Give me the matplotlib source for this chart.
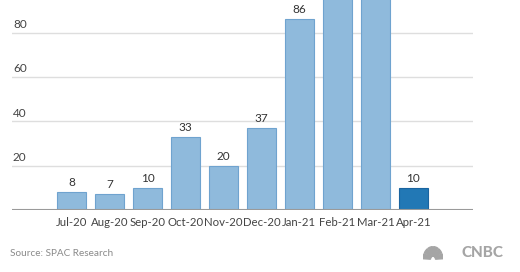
import matplotlib
matplotlib.use("Agg")
import matplotlib.pyplot as plt
from matplotlib.patches import Wedge
from matplotlib.transforms import blended_transform_factory

plt.rcParams['font.family'] = ['Lato', 'DejaVu Sans']

# Datos: SPAC IPOs por mes
meses = ["Jul-20", "Aug-20", "Sep-20", "Oct-20", "Nov-20", "Dec-20",
         "Jan-21", "Feb-21", "Mar-21", "Apr-21"]
valores = [8, 7, 10, 33, 20, 37, 86, 144, 109, 10]
yticks = [20, 40, 60, 80]

claro = "#8fbadc"
borde_claro = "#6fa3cf"
oscuro = "#2278b5"
borde_oscuro = "#1a64a0"

fig = plt.figure(figsize=(5.2, 2.72), dpi=100)
ax = fig.add_axes([12/520, 62/272, (473-12)/520, 210/272])

x = list(range(len(meses)))
colores = [claro]*(len(meses)-1) + [oscuro]
bordes = [borde_claro]*(len(meses)-1) + [borde_oscuro]
ax.bar(x, valores, width=0.76, color=colores, edgecolor=bordes,
       linewidth=0.8, zorder=3)

ax.set_xlim(-1.566, 10.57)
ax.set_ylim(0, 94.8)

# lineas de la cuadricula
for v in yticks:
    ax.axhline(v, color="#dedede", linewidth=1, zorder=1)
ax.axhline(0, color="#9a9a9a", linewidth=1.5, zorder=4)

# etiquetas del eje y encima de la linea
trans = blended_transform_factory(ax.transAxes, ax.transData)
for v in yticks:
    ax.annotate(str(v), xy=(0.002, v), xycoords=trans, xytext=(0, 2),
                textcoords="offset points", ha="left", va="bottom",
                fontsize=8.5, color="#444444")

# valores sobre las barras
for xi, v in zip(x, valores):
    ax.annotate(str(v), xy=(xi, v), xytext=(0, 3), textcoords="offset points",
                ha="center", va="bottom", fontsize=8.5, color="#333333",
                annotation_clip=True)

ax.set_xticks(x)
ax.set_xticklabels(meses, fontsize=8.2, color="#444444")
ax.tick_params(axis="x", length=0, pad=5)
ax.set_yticks([])
for s in ax.spines.values():
    s.set_visible(False)

fig.text(10/520, 1 - 253/272, "Source: SPAC Research", fontsize=7.2,
         color="#8a8a8a", ha="left", va="center")
fig.text(503/520, 1 - 253/272, "CNBC", fontsize=11, fontweight="black",
         color="#a5a5a5", ha="right", va="center")

# logo (pavo real) aproximado
logo = fig.add_axes([423/520, 1 - 260/272, 20/520, 14/272])
logo.set_xlim(-1, 1)
logo.set_ylim(0, 1.1)
logo.axis("off")
for k in range(6):
    a1 = 180 - k*30
    logo.add_patch(Wedge((0, 0.05), 1.0, a1 - 27, a1 - 3, width=0.75,
                         color="#a5a5a5"))

fig.savefig("out.png", dpi=100)
